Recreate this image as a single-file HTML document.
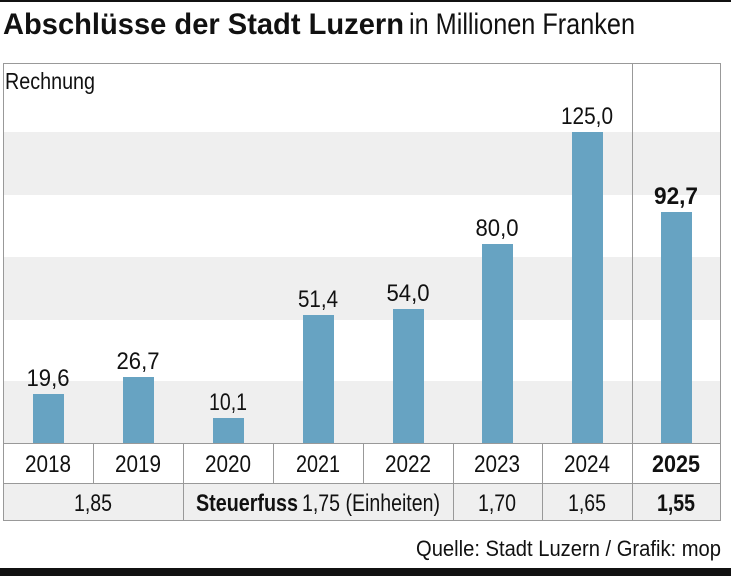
<!DOCTYPE html>
<html><head><meta charset="utf-8"><style>
html,body{margin:0;padding:0;background:#fff;}
svg{display:block;font-family:"Liberation Sans",sans-serif;}
</style></head><body>
<svg width="731" height="576" viewBox="0 0 731 576" xmlns="http://www.w3.org/2000/svg">
<rect x="0" y="0" width="731" height="2" fill="#111"/>
<text x="3" y="34" font-size="30" font-weight="bold" fill="#111" textLength="401" lengthAdjust="spacingAndGlyphs">Abschlüsse der Stadt Luzern</text>
<text x="409" y="34" font-size="30" fill="#111" textLength="226" lengthAdjust="spacingAndGlyphs">in Millionen Franken</text>
<rect x="3" y="132" width="718" height="63" fill="#efefef"/>
<rect x="3" y="257" width="718" height="63" fill="#efefef"/>
<rect x="3" y="381" width="718" height="62" fill="#efefef"/>
<rect x="3" y="483" width="718" height="38" fill="#efefef"/>
<rect x="3.5" y="63.5" width="717" height="457" fill="none" stroke="#999" stroke-width="1"/>
<line x1="632.5" y1="63" x2="632.5" y2="521" stroke="#999"/>
<line x1="3" y1="443.5" x2="721" y2="443.5" stroke="#999"/>
<line x1="3" y1="483.5" x2="721" y2="483.5" stroke="#999"/>
<g stroke="#999">
<line x1="93.5" y1="443" x2="93.5" y2="483"/>
<line x1="183.5" y1="443" x2="183.5" y2="521"/>
<line x1="273.5" y1="443" x2="273.5" y2="483"/>
<line x1="363.5" y1="443" x2="363.5" y2="483"/>
<line x1="453.5" y1="443" x2="453.5" y2="521"/>
<line x1="542.5" y1="443" x2="542.5" y2="521"/>
</g>
<text x="5" y="89" font-size="23" fill="#111" textLength="90" lengthAdjust="spacingAndGlyphs">Rechnung</text>
<g fill="#67a3c2">
<rect x="33" y="394" width="31" height="49"/>
<rect x="123" y="377" width="31" height="66"/>
<rect x="213" y="418" width="31" height="25"/>
<rect x="303" y="315" width="31" height="128"/>
<rect x="393" y="309" width="31" height="134"/>
<rect x="482" y="244" width="31" height="199"/>
<rect x="572" y="132" width="31" height="311"/>
<rect x="661" y="212" width="31" height="231"/>
</g>
<g font-size="24" fill="#111" text-anchor="middle">
<text x="48" y="386" textLength="43" lengthAdjust="spacingAndGlyphs">19,6</text>
<text x="138" y="369" textLength="43" lengthAdjust="spacingAndGlyphs">26,7</text>
<text x="228" y="410" textLength="38" lengthAdjust="spacingAndGlyphs">10,1</text>
<text x="318" y="307" textLength="40" lengthAdjust="spacingAndGlyphs">51,4</text>
<text x="408" y="301" textLength="43" lengthAdjust="spacingAndGlyphs">54,0</text>
<text x="497" y="236" textLength="43" lengthAdjust="spacingAndGlyphs">80,0</text>
<text x="587" y="124" textLength="52" lengthAdjust="spacingAndGlyphs">125,0</text>
<text x="676" y="204" font-weight="bold" textLength="44" lengthAdjust="spacingAndGlyphs">92,7</text>
<text x="48" y="472" textLength="46" lengthAdjust="spacingAndGlyphs">2018</text>
<text x="138" y="472" textLength="46" lengthAdjust="spacingAndGlyphs">2019</text>
<text x="228" y="472" textLength="46" lengthAdjust="spacingAndGlyphs">2020</text>
<text x="318" y="472" textLength="44" lengthAdjust="spacingAndGlyphs">2021</text>
<text x="408" y="472" textLength="46" lengthAdjust="spacingAndGlyphs">2022</text>
<text x="497" y="472" textLength="46" lengthAdjust="spacingAndGlyphs">2023</text>
<text x="587" y="472" textLength="46" lengthAdjust="spacingAndGlyphs">2024</text>
<text x="676" y="472" font-weight="bold" textLength="48" lengthAdjust="spacingAndGlyphs">2025</text>
<text x="93" y="511" textLength="38" lengthAdjust="spacingAndGlyphs">1,85</text>
<text x="497" y="511" textLength="38" lengthAdjust="spacingAndGlyphs">1,70</text>
<text x="587" y="511" textLength="38" lengthAdjust="spacingAndGlyphs">1,65</text>
<text x="676" y="511" font-weight="bold" textLength="38" lengthAdjust="spacingAndGlyphs">1,55</text>
</g>
<text x="196" y="511" font-size="24" font-weight="bold" fill="#111" textLength="102" lengthAdjust="spacingAndGlyphs">Steuerfuss</text>
<text x="302" y="511" font-size="24" fill="#111" textLength="138" lengthAdjust="spacingAndGlyphs">1,75 (Einheiten)</text>
<text x="416" y="556" font-size="22" fill="#111" textLength="305" lengthAdjust="spacingAndGlyphs">Quelle: Stadt Luzern / Grafik: mop</text>
<rect x="0" y="568" width="731" height="8" fill="#111"/>
</svg>
</body></html>
